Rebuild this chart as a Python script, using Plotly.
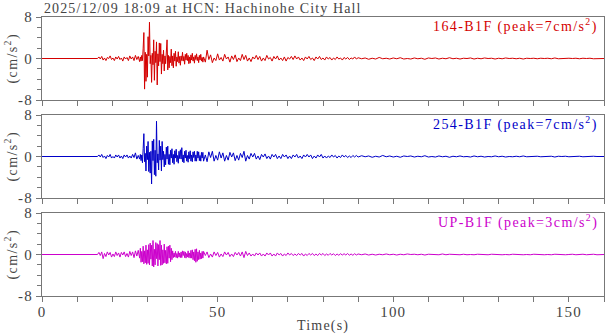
import numpy as np
import plotly.graph_objects as go

# ---------------- data ----------------
TITLE = "2025/12/09 18:09 at HCN: Hachinohe City Hall"
CHANNELS = ["164-B1F", "254-B1F", "UP-B1F"]
PEAKS = [7, 7, 3]
COLORS = ["#d40000", "#0000c8", "#cc00cc"]
X_TICKS = [0, 50, 100, 150]
Y_TICKS = [-8, 0, 8]

# sampling segments: start time (s) and step (s)
SEG_START = [15.8, 28.0, 46.0, 90.0]
SEG_DT = [0.4, 0.2, 0.5, 1.0]

red_pre = [0, 0.3, -0.1, 0.4, -0.3, 0.1, -0.4, 0.2, 0.0, 0.5, -0.2, 0.1, -0.4, 0.3, -0.1, 0.4,
           -0.2, 0.1, -0.5, 0.3, -0.1, 0.2, -0.4, 0.5, -0.1, 0.3, -0.4, 0.6, -0.2, 0.4, -0.6]
red_strong = [0.3, -0.5, 0.6, -0.4, 2.0, 5.0, -5.9, 1.2, -4.4, 0.8,
              -3.6, 4.2, 0.5, 7.0, -1.0, 0.6, -4.6, 1.0, -1.2, 3.6,
              -4.2, 1.4, -0.8, 3.2, -5.1, 0.9, -1.4, 3.0, -0.6, 2.9,
              -3.0, 0.8, -1.0, 1.6, -2.4, 0.5, -1.0, 0.8, 3.6, -2.2,
              0.6, -1.8, 0.4, -0.8, 1.8, -1.4, 0.5, -1.8, 1.0, -0.5,
              1.4, -1.5, 0.3, -0.6, 1.3, -0.9, 0.4, -1.3, 0.5, -0.4,
              1.2, -0.5, 0.4, -1.1, 0.8, -0.3, 1.0, -0.4, 0.6, -1.0,
              0.3, -0.9, 0.7, -0.3, 1.0, -0.5, 0.3, -0.9, 0.6, -0.2,
              0.9, -0.4, 0.3, -0.8, 0.6, -0.3, 0.8, -0.5, 0.2, -0.7]
red_coda = [0.3, -0.7, 1.6, -0.2, 0.7, -0.8, 0.1, -0.4, 0.9, -0.3,
            0.2, -0.5, 0.8, -0.1, 0.3, -0.7, 0.5, -0.2, 0.7, -0.6,
            0.1, -0.4, 0.8, -0.2, 0.6, -0.5, 0.1, -0.6, 0.3, -0.1,
            0.6, -0.2, 0.4, -0.5, 0.1, -0.4, 0.6, -0.1, 0.2, -0.5,
            0.4, -0.1, 0.5, -0.3, 0.1, -0.4, 0.3, -0.5, 0.2, -0.1,
            0.4, -0.2, 0.5, -0.1, 0.3, -0.3, 0.1, -0.4, 0.3, -0.1,
            0.4, -0.2, 0.1, -0.4, 0.3, -0.1, 0.4, -0.2, 0.1, -0.3,
            0.3, -0.1, 0.2, -0.3, 0.1, -0.2, 0.3, -0.1,
            0.1, -0.3, 0.2, -0.1, 0.2, -0.2, 0.1, -0.1, 0.3, -0.1]
red_tail = [0.15, -0.05, 0.1, -0.15, 0.05, -0.1, 0.2, -0.05, 0.05, -0.1,
            0.1, -0.05, 0.15, -0.1, 0.0, -0.1, 0.1, -0.05, 0.05, -0.15,
            0.1, 0.0, 0.1, -0.1, 0.05, -0.05, 0.15, -0.05, 0.05, -0.1,
            0.05, 0.0, 0.1, -0.1, 0.05, -0.05, 0.1, 0.0, 0.05, -0.1,
            0.05, -0.05, 0.1, 0.0, 0.05, -0.05, 0.05, -0.1, 0.05, 0.0,
            0.05, -0.05, 0.05, 0.0, 0.05, -0.05, 0.1, -0.05, 0.0, -0.05,
            0.05, 0.0, 0.05, -0.05, 0.05, 0.0, 0.05, -0.05, 0.0, -0.05, 0.0]

blue_pre = [0, 0.3, -0.1, 0.4, -0.2, 0.1, -0.4, 0.2, -0.1, 0.4, -0.3, 0.0, -0.3, 0.3, -0.1, 0.3,
            -0.3, 0.1, -0.4, 0.3, -0.1, 0.3, -0.3, 0.1, -0.3, 0.4, -0.2, 0.7, -0.5, 0.2, -0.5]
blue_strong = [0.4, -0.8, 0.3, -1.2, 1.5, 4.4, -1.0, 0.6, -2.8, 2.0,
               -0.6, 2.9, -2.9, 0.8, -3.2, 1.0, -5.3, 3.0, -0.8, 3.3,
               -3.5, 1.2, -3.8, 6.8, -1.2, 0.5, -2.6, 3.1, -0.7, 2.0,
               -2.8, 2.9, -0.6, 1.0, -2.0, 0.4, -1.6, 1.8, -0.5, 2.0,
               -1.5, 0.4, -1.6, 1.2, -0.3, 1.5, -1.2, 0.4, -1.5, 1.1,
               -0.3, 1.4, -1.0, 0.2, -1.3, 1.0, -0.4, 1.3, -0.5, 1.7,
               -1.0, 0.3, -1.2, 1.0, -0.3, 1.2, -0.9, 0.2, -1.1, 0.9,
               -0.4, 1.1, -0.9, 0.3, -1.0, 0.9, -0.2, 1.0, -0.9, 0.3,
               -0.9, 1.0, -0.3, 0.9, -0.8, 0.2, -0.9, 0.8, -0.3, 0.8]
blue_coda = [-0.9, 0.3, -1.0, 0.9, -0.2, 1.0, -0.9, 0.2, -0.7, 0.9,
             -0.3, 0.7, -0.9, 0.2, -0.7, 0.8, -0.1, 0.7, -0.8, 0.2,
             -0.7, 0.6, -0.2, 1.0, -0.9, 0.2, -0.5, 0.6, -0.1, 0.6,
             -0.5, 0.1, -0.6, 0.4, -0.1, 0.5, -0.4, 0.1, -0.5, 0.4,
             -0.1, 0.4, -0.4, 0.1, -0.4, 0.4, -0.1, 0.3, -0.4, 0.1,
             -0.4, 0.3, -0.1, 0.4, -0.3, 0.1, -0.4, 0.3, -0.1, 0.4,
             -0.1, 0.3, -0.4, 0.1, -0.3, 0.3, -0.1, 0.4, -0.3, 0.1,
             -0.3, 0.1, -0.2, 0.3, -0.1, 0.2, -0.3, 0.1, -0.2, 0.3,
             -0.1, 0.2, -0.2, 0.1, -0.2, 0.2, -0.1, 0.2]
blue_tail = [-0.1, 0.15, -0.05, 0.1, -0.15, 0.05, -0.1, 0.2, -0.05, 0.1,
             -0.1, 0.05, -0.15, 0.1, 0.0, 0.1, -0.1, 0.05, -0.05, 0.15,
             -0.1, 0.0, -0.1, 0.1, -0.05, 0.05, -0.15, 0.05, -0.05, 0.1,
             -0.05, 0.0, -0.1, 0.1, -0.05, 0.05, -0.1, 0.0, -0.05, 0.1,
             -0.05, 0.05, -0.1, 0.0, -0.05, 0.05, -0.05, 0.1, -0.05, 0.0,
             -0.05, 0.05, -0.05, 0.0, -0.05, 0.05, -0.1, 0.05, 0.0, 0.05,
             -0.05, 0.0, -0.05, 0.05, -0.05, 0.0, -0.05, 0.05, 0.0, 0.05, 0.0]

mag_pre = [0, 0.4, -0.2, 0.5, -0.8, 0.2, -0.4, 0.5, -0.1, 0.4, -0.5, 0.1, -0.4, 0.5, -0.2, 0.3,
           -0.5, 0.4, -0.1, 0.5, -0.4, 0.2, -0.5, 0.6, -0.2, 0.5, -0.6, 0.7, -0.3, 0.8, -0.7]
mag_strong = [1.2, -1.5, 0.6, -1.4, 1.6, -1.8, 0.7, -1.6, 1.8, -1.9,
              0.9, -1.7, 1.9, -2.0, 2.2, -0.9, 1.8, -2.2, 2.7, -2.4,
              1.0, -2.0, 2.3, -0.8, 2.1, -2.2, 1.9, -1.0, 2.7, -2.1,
              1.8, -2.0, 0.9, -1.7, 2.0, -1.6, 0.8, -1.8, 1.5, -1.7,
              1.6, -0.7, 1.8, -1.4, 1.2, -1.0, 0.7, -0.6, 0.3, -0.5,
              0.6, -0.6, 0.2, -0.7, 0.6, -0.5, 0.3, -0.6, 0.5, -0.6,
              0.7, -0.2, 0.6, -0.6, 0.5, -0.7, 0.2, -0.5, 0.7, -0.6,
              0.3, -0.7, 0.8, -0.7, 0.9, -1.0, 0.5, -1.2, 1.0, -1.5,
              1.1, -1.3, 0.5, -1.0, 0.8, -0.9, 0.3, -0.8, 0.6, -0.7]
mag_coda = [0.6, -0.2, 0.5, -0.6, 0.1, -0.5, 0.5, -0.2, 0.4, -0.5,
            0.1, -0.4, 0.5, -0.1, 0.4, -0.4, 0.1, -0.4, 0.4, -0.1,
            0.4, -0.3, 0.5, -0.6, 0.6, -0.2, 0.3, -0.3, 0.1, -0.3,
            0.3, -0.1, 0.3, -0.3, 0.1, -0.3, 0.3, -0.1, 0.3, -0.3,
            0.1, -0.3, 0.3, -0.1, 0.2, -0.3, 0.1, -0.2, 0.3, -0.1,
            0.2, -0.2, 0.1, -0.2, 0.2, -0.1, 0.2, -0.3, 0.1, -0.2,
            0.2, -0.1, 0.2, -0.2, 0.1, -0.2, 0.2, -0.1, 0.2, -0.2,
            0.1, -0.15, 0.2, -0.1, 0.15, -0.2, 0.1, -0.15, 0.15, -0.1,
            0.15, -0.1, 0.2, -0.15, 0.1, -0.15, 0.15, -0.1]
mag_tail = [0.1, -0.05, 0.1, -0.1, 0.05, -0.1, 0.05, -0.05, 0.1, -0.05,
            0.05, -0.1, 0.05, -0.05, 0.1, 0.0, 0.05, -0.05, 0.05, -0.1,
            0.05, 0.0, 0.05, -0.05, 0.1, -0.05, 0.05, 0.0, 0.05, -0.05,
            0.05, -0.05, 0.0, -0.05, 0.05, 0.0, 0.05, -0.05, 0.05, 0.0,
            0.05, -0.05, 0.0, -0.05, 0.05, 0.0, 0.05, -0.05, 0.0, -0.05,
            0.05, 0.0, 0.05, -0.05, 0.0, -0.05, 0.05, 0.0, 0.05, -0.05,
            0.0, 0.05, -0.05, 0.0, 0.05, -0.05, 0.0, 0.05, -0.05, 0.0, 0.0]

TRACES = [
    [red_pre, red_strong, red_coda, red_tail],
    [blue_pre, blue_strong, blue_coda, blue_tail],
    [mag_pre, mag_strong, mag_coda, mag_tail],
]

# ---------------- figure ----------------
W, H = 605, 334
ML, MR, MT, MB = 42, 1, 17, 38
plot_w = W - ML - MR
plot_h = H - MT - MB
panel_h = 83
gap = (plot_h - 3 * panel_h) / 2

SERIF = "Liberation Serif, Times New Roman, serif"
AX_COL = "#777777"
TXT_COL = "#444444"


def spaced(s, px):
    return f'<span style="letter-spacing:{px}px">{s}</span>'


fig = go.Figure()


def build(segments):
    t = [0.0]
    y = [0.0]
    for seg, t0, dt in zip(segments, SEG_START, SEG_DT):
        t.extend((t0 + dt * np.arange(len(seg))).tolist())
        y.extend(seg)
    return t, y


for i, (segs, col) in enumerate(zip(TRACES, COLORS)):
    t, y = build(segs)
    k = "" if i == 0 else str(i + 1)
    fig.add_trace(go.Scatter(x=t, y=y, mode="lines", line=dict(color=col, width=1),
                             xaxis="x" + k, yaxis="y" + k, showlegend=False,
                             hoverinfo="skip"))
    top = 1 - (i * (panel_h + gap)) / plot_h
    bot = top - panel_h / plot_h
    last = i == 2
    fig.layout["xaxis" + k] = dict(
        domain=[0, 1], anchor="y" + k, range=[0, 160],
        tickmode="array", tickvals=X_TICKS, ticktext=[spaced(str(v), 1.2) for v in X_TICKS],
        showticklabels=last, ticks="outside", ticklen=5, tickcolor=AX_COL, tickwidth=1,
        ticklabelstandoff=-3,
        minor=dict(dtick=10, ticks="outside", ticklen=5, tickcolor=AX_COL, tickwidth=1),
        showline=True, linecolor=AX_COL, linewidth=1, mirror=True,
        showgrid=False, zeroline=False,
        tickfont=dict(family=SERIF, size=15, color=TXT_COL),
        **({} if i == 0 else {"matches": "x"}),
    )
    fig.layout["yaxis" + k] = dict(
        domain=[bot, top], anchor="x" + k, range=[-8, 8],
        tickmode="array", tickvals=Y_TICKS, ticktext=[spaced(str(v), 1.2) for v in Y_TICKS],
        ticks="outside", ticklen=5, tickcolor=AX_COL, tickwidth=1,
        minor=dict(dtick=2, ticks="outside", ticklen=4, tickcolor=AX_COL, tickwidth=1),
        showline=True, linecolor=AX_COL, linewidth=1, mirror=True,
        showgrid=False, zeroline=False,
        tickfont=dict(family=SERIF, size=15, color=TXT_COL),
    )
    mid = (top + bot) / 2
    fig.add_annotation(xref="paper", yref="paper", x=(12 - ML) / plot_w, y=mid,
                       text=spaced("(cm/s<sup>2</sup>)", 1.4), textangle=-90, showarrow=False,
                       xanchor="center", yanchor="middle",
                       font=dict(family=SERIF, size=14, color=TXT_COL))
    fig.add_annotation(xref="paper", yref="paper", x=(600 - ML) / plot_w,
                       y=top - 9 / plot_h,
                       text=spaced(f"{CHANNELS[i]} (peak={PEAKS[i]}cm/s<sup>2</sup>)", 1.4),
                       showarrow=False, xanchor="right", yanchor="middle",
                       font=dict(family=SERIF, size=14, color=col))

fig.add_annotation(xref="paper", yref="paper", x=0, y=1 + (MT - 8) / plot_h,
                   text=spaced(TITLE, 1.1), showarrow=False, xanchor="left", yanchor="middle",
                   font=dict(family=SERIF, size=14, color=TXT_COL))
fig.add_annotation(xref="paper", yref="paper", x=0.5, y=-(326 - (H - MB)) / plot_h,
                   text=spaced("Time(s)", 1.2), showarrow=False, xanchor="center", yanchor="middle",
                   font=dict(family=SERIF, size=14, color=TXT_COL))

fig.update_layout(width=W, height=H, margin=dict(l=ML, r=MR, t=MT, b=MB),
                  paper_bgcolor="white", plot_bgcolor="white")

fig.write_html("out.html")
